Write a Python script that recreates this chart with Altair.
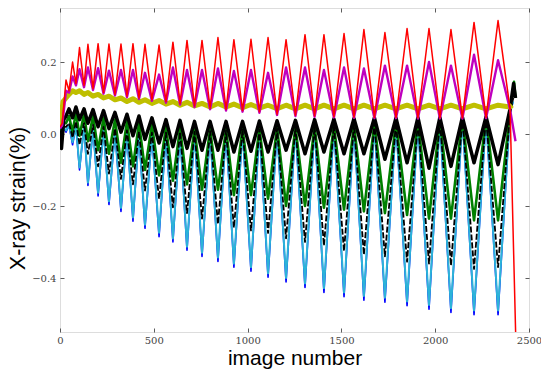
import altair as alt
import pandas as pd

# image numbers of the loading extremes (red peaks / blue valleys) and of the mid-cycle turning points
cycle_x = [32, 67, 104, 149, 203, 261, 325, 389, 453, 528, 602, 677, 757, 842, 927, 1018,
           1109, 1205, 1306, 1407, 1514, 1620, 1732, 1850, 1967, 2084, 2207, 2335]
trough_x = [48, 85, 128, 176, 232, 293, 357, 421, 490, 565, 640, 717, 800, 885, 973, 1063,
            1157, 1255, 1357, 1460, 1567, 1676, 1791, 1908, 2025, 2145, 2271, 2399]

# red
red_at_cycle = [0.15, 0.20, 0.24, 0.249, 0.251, 0.25, 0.25, 0.251, 0.249, 0.247, 0.255, 0.26, 0.26, 0.268,
                0.262, 0.263, 0.268, 0.262, 0.276, 0.276, 0.279, 0.29, 0.282, 0.293, 0.293, 0.29, 0.31, 0.315]
red_at_trough = [0.12, 0.14, 0.135, 0.126, 0.115, 0.11, 0.105, 0.10, 0.095, 0.09, 0.085, 0.078, 0.072, 0.068,
                 0.065, 0.062, 0.055, 0.052, 0.05, 0.048, 0.047, 0.046, 0.046, 0.045, 0.045, 0.045, 0.046, 0.07]
red_start = [(0, 0.02), (12, 0.03)]
red_end = [(2432, -0.62)]

# magenta
mag_at_cycle = [0.12, 0.16, 0.18, 0.185, 0.183, 0.176, 0.178, 0.178, 0.17, 0.165, 0.185, 0.178, 0.178, 0.182,
                0.175, 0.178, 0.17, 0.185, 0.185, 0.178, 0.185, 0.182, 0.19, 0.19, 0.2, 0.19, 0.22, 0.205]
mag_at_trough = [0.115, 0.135, 0.13, 0.122, 0.112, 0.107, 0.102, 0.097, 0.092, 0.087, 0.082, 0.075, 0.069, 0.065,
                 0.062, 0.059, 0.053, 0.05, 0.048, 0.046, 0.045, 0.044, 0.044, 0.043, 0.043, 0.043, 0.044, 0.068]
mag_start = [(0, 0.015), (12, 0.025)]
mag_end = [(2428, -0.02)]

# yellow
yel_at_cycle = [0.10, 0.12, 0.12, 0.115, 0.11, 0.105, 0.10, 0.098, 0.095, 0.093, 0.09, 0.088, 0.085, 0.085,
                0.083, 0.082, 0.08, 0.08, 0.08, 0.08, 0.08, 0.08, 0.08, 0.08, 0.08, 0.08, 0.08, 0.08]
yel_at_trough = [0.11, 0.115, 0.11, 0.105, 0.10, 0.095, 0.09, 0.088, 0.085, 0.083, 0.08, 0.078, 0.075, 0.075,
                 0.073, 0.072, 0.07, 0.07, 0.07, 0.07, 0.07, 0.07, 0.07, 0.07, 0.07, 0.07, 0.07, 0.075]
yel_start = [(0, 0.02), (16, 0.09)]
yel_end = [(2410, 0.08)]

# black (solid, noisy)
blk_at_cycle = [0.05, 0.045, 0.04, 0.03, 0.02, 0.015, 0.005, -0.005, -0.015, -0.025, -0.035, -0.04, -0.045, -0.045,
                -0.05, -0.048, -0.05, -0.045, -0.055, -0.05, -0.055, -0.055, -0.07, -0.08, -0.095, -0.09, -0.08, -0.085]
blk_at_trough = [0.07, 0.075, 0.07, 0.068, 0.065, 0.06, 0.055, 0.05, 0.045, 0.04, 0.038, 0.035, 0.035, 0.035,
                 0.035, 0.036, 0.037, 0.038, 0.04, 0.042, 0.043, 0.045, 0.045, 0.046, 0.046, 0.047, 0.048, 0.07]
blk_start = [(0, 0.0), (8, -0.04), (20, 0.04)]
blk_end = [(2418, 0.14), (2428, 0.1)]

# green
grn_at_cycle = [0.03, 0.005, -0.005, -0.02, -0.045, -0.055, -0.08, -0.09, -0.10, -0.115, -0.13, -0.14, -0.155, -0.155,
                -0.17, -0.17, -0.18, -0.2, -0.2, -0.205, -0.21, -0.215, -0.22, -0.225, -0.235, -0.235, -0.24, -0.24]
grn_at_trough = [0.05, 0.06, 0.055, 0.05, 0.045, 0.04, 0.035, 0.03, 0.025, 0.02, 0.016, 0.014, 0.013, 0.014,
                 0.015, 0.016, 0.018, 0.02, 0.022, 0.025, 0.027, 0.03, 0.033, 0.036, 0.04, 0.045, 0.048, 0.06]
grn_start = [(0, 0.0), (14, 0.03)]
grn_end = [(2420, 0.145), (2428, 0.1)]

# black dashed
kd_at_cycle = [0.02, -0.01, -0.03, -0.055, -0.09, -0.11, -0.125, -0.14, -0.157, -0.18, -0.204, -0.22, -0.235, -0.25,
               -0.26, -0.268, -0.275, -0.29, -0.30, -0.31, -0.325, -0.335, -0.34, -0.355, -0.36, -0.365, -0.375, -0.37]
kd_at_trough = [0.03, 0.035, 0.03, 0.025, 0.02, 0.015, 0.01, 0.006, 0.004, 0.004, 0.005, 0.006, 0.008, 0.01,
                0.012, 0.013, 0.015, 0.018, 0.021, 0.024, 0.026, 0.029, 0.032, 0.035, 0.039, 0.044, 0.047, 0.06]
kd_start = [(0, 0.0), (14, 0.02)]
kd_end = [(2416, 0.1)]

# cyan
cyan_at_cycle = [0.01, -0.023, -0.093, -0.135, -0.163, -0.187, -0.205, -0.232, -0.252, -0.274, -0.29, -0.313, -0.33, -0.343,
                 -0.36, -0.37, -0.387, -0.40, -0.415, -0.428, -0.44, -0.45, -0.455, -0.465, -0.475, -0.484, -0.49, -0.49]
cyan_at_trough = [0.025, 0.022, 0.02, 0.016, 0.012, 0.007, 0.003, 0.0, 0.0, 0.0, 0.002, 0.004, 0.006, 0.009,
                  0.01, 0.011, 0.013, 0.016, 0.019, 0.022, 0.024, 0.027, 0.03, 0.033, 0.037, 0.043, 0.046, 0.06]
cyan_start = [(0, 0.0), (14, 0.02)]
cyan_end = [(2415, 0.09)]

# blue (tips below the cyan)
blue_at_cycle = [0.005, -0.03, -0.10, -0.143, -0.172, -0.196, -0.215, -0.242, -0.262, -0.285, -0.30, -0.323, -0.34, -0.354,
                 -0.37, -0.381, -0.398, -0.411, -0.426, -0.44, -0.452, -0.462, -0.467, -0.477, -0.487, -0.496, -0.502, -0.502]
blue_at_trough = cyan_at_trough
blue_start = cyan_start
blue_end = cyan_end


def series(name, start, at_cycle, at_trough, end):
    pts = list(start)
    for cx, cy, tx, ty in zip(cycle_x, at_cycle, trough_x, at_trough):
        pts.append((cx, cy))
        pts.append((tx, ty))
    pts += list(end)
    return pd.DataFrame({"x": [p[0] for p in pts], "y": [p[1] for p in pts], "s": name})


# (name, data, colour, width, dash)
specs = [
    ("blue", series("blue", blue_start, blue_at_cycle, blue_at_trough, blue_end), "#0000ff", 1.6, None),
    ("cyan", series("cyan", cyan_start, cyan_at_cycle, cyan_at_trough, cyan_end), "#2cb3d8", 2.0, None),
    ("green", series("green", grn_start, grn_at_cycle, grn_at_trough, grn_end), "#008000", 2.6, None),
    ("kdash", series("kdash", kd_start, kd_at_cycle, kd_at_trough, kd_end), "#000000", 1.8, [6, 2]),
    ("black", series("black", blk_start, blk_at_cycle, blk_at_trough, blk_end), "#000000", 3.5, None),
    ("yellow", series("yellow", yel_start, yel_at_cycle, yel_at_trough, yel_end), "#bfbf00", 5.0, None),
    ("magenta", series("magenta", mag_start, mag_at_cycle, mag_at_trough, mag_end), "#bf00bf", 2.4, None),
    ("red", series("red", red_start, red_at_cycle, red_at_trough, red_end), "#ff0000", 1.5, None),
]

xscale = alt.Scale(domain=[0, 2500], nice=False, zero=False)
yscale = alt.Scale(domain=[-0.55, 0.35], nice=False, zero=False)

lab_font = "DejaVu Serif"
x_vals = [0, 500, 1000, 1500, 2000, 2500]
y_vals = [-0.4, -0.2, 0.0, 0.2]

x_axis = alt.Axis(values=x_vals, format="d", title="image number", grid=False, domain=False,
                  offset=-4, tickSize=4, tickColor="#333", tickWidth=0.8, labelPadding=3,
                  labelFont=lab_font, labelFontSize=10, labelColor="#444", labelFlush=False,
                  titleFont="Liberation Sans", titleFontSize=21, titleFontWeight="normal",
                  titleColor="#000", titlePadding=2)
y_axis = alt.Axis(values=y_vals, format=".1f", title="X-ray strain(%)", grid=False, domain=False,
                  offset=-4, tickSize=4, tickColor="#333", tickWidth=0.8, labelPadding=4,
                  labelFont=lab_font, labelFontSize=10, labelColor="#444",
                  titleFont="Liberation Sans", titleFontSize=21.5, titleFontWeight="normal",
                  titleColor="#000", titlePadding=2, titleY=190)

layers = []
for i, (name, df, color, width, dash) in enumerate(specs):
    mk = dict(color=color, strokeWidth=width, clip=True, strokeJoin="round")
    if dash:
        mk["strokeDash"] = dash
    if i == 0:
        enc = dict(x=alt.X("x:Q", scale=xscale, axis=x_axis), y=alt.Y("y:Q", scale=yscale, axis=y_axis))
    else:
        enc = dict(x=alt.X("x:Q", scale=xscale, axis=None), y=alt.Y("y:Q", scale=yscale, axis=None))
    layers.append(alt.Chart(df).mark_line(**mk).encode(order=alt.Order("x:Q"), **enc))

# mirror ticks on top and right (matplotlib style box)
top_axis = alt.Axis(orient="top", values=x_vals, labels=False, title=None, grid=False, domain=False,
                    offset=-4, tickSize=4, tickColor="#333", tickWidth=0.8)
right_axis = alt.Axis(orient="right", values=y_vals, labels=False, title=None, grid=False, domain=False,
                      offset=-4, tickSize=4, tickColor="#333", tickWidth=0.8)
ticks_layer = alt.Chart(specs[-1][1]).mark_point(opacity=0).encode(
    x=alt.X("x:Q", scale=xscale, axis=top_axis),
    y=alt.Y("y:Q", scale=yscale, axis=right_axis),
)

chart = alt.layer(*layers, ticks_layer).resolve_axis(x="independent", y="independent").properties(
    width=469, height=324,
    padding={"left": 60, "top": 8, "right": 12, "bottom": 42},
    autosize=alt.AutoSizeParams(type="none"),
).configure_view(stroke="#333", strokeWidth=1).configure(background="white")

chart.save("out.html", embed_options={"renderer": "svg", "actions": False})
